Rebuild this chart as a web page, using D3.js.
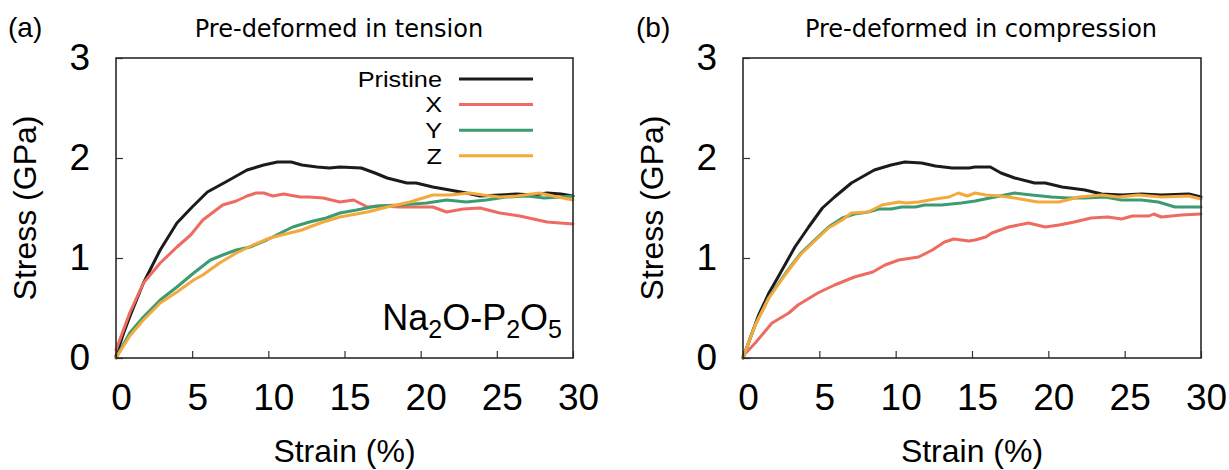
<!DOCTYPE html>
<html>
<head>
<meta charset="utf-8">
<script src="https://cdn.jsdelivr.net/npm/d3@7"></script>
<style>
  html, body { margin: 0; padding: 0; background: #fff; }
  svg { display: block; }
</style>
</head>
<body>
<svg id="chart" width="1229" height="470"></svg>
<script>
// ---------------- data ----------------
const strainTicks = [0, 5, 10, 15, 20, 25, 30];
const stressTicks = [0, 1, 2, 3];
const seriesNames = ["Pristine", "X", "Y", "Z"];
const seriesColors = ["#1b1b1b", "#ee6b61", "#3c9b72", "#f4a93b"];
const panelLabels = ["(a)", "(b)"];
const panelTitles = ["Pre-deformed in tension", "Pre-deformed in compression"];

// [strain %, stress GPa]
const tensionPristine = [[0,0.02],[0.5,0.25],[1,0.45],[1.8,0.75],[2.9,1.08],[4,1.35],[5,1.51],[6,1.66],[7.2,1.76],[8.6,1.88],[9.7,1.93],[10.6,1.96],[11.5,1.96],[12.2,1.93],[13.2,1.91],[14,1.9],[14.7,1.91],[16.1,1.9],[17,1.85],[17.8,1.8],[19.1,1.75],[19.7,1.75],[20.8,1.71],[21.9,1.68],[23,1.65],[23.9,1.62],[25.2,1.63],[26.3,1.64],[27.4,1.63],[28.3,1.65],[29.2,1.64],[30,1.62]];
const tensionX = [[0,0.08],[0.9,0.45],[1.8,0.75],[2.9,0.95],[4,1.11],[4.9,1.23],[5.7,1.38],[7,1.53],[7.9,1.57],[8.6,1.62],[9.2,1.65],[9.7,1.65],[10.3,1.62],[11,1.64],[12.1,1.61],[12.7,1.61],[13.6,1.6],[14.7,1.56],[15.6,1.58],[16.5,1.51],[17.5,1.52],[18.6,1.51],[19.7,1.51],[20.8,1.51],[21.7,1.46],[22.8,1.49],[23.9,1.5],[25.2,1.45],[26.5,1.42],[27.4,1.39],[28.3,1.36],[30,1.34]];
const tensionY = [[0,0],[0.9,0.25],[1.8,0.41],[2.9,0.58],[4,0.71],[5.1,0.85],[6.2,0.98],[7,1.03],[7.9,1.08],[8.8,1.11],[9.9,1.18],[10.8,1.25],[11.6,1.31],[12.7,1.36],[13.8,1.4],[14.7,1.45],[15.8,1.48],[17.1,1.52],[18.6,1.53],[20.4,1.55],[21.7,1.58],[23,1.56],[24.3,1.58],[25.6,1.61],[27,1.62],[28.1,1.6],[29.2,1.61],[30,1.62]];
const tensionZ = [[0,0],[0.9,0.22],[1.8,0.38],[2.9,0.55],[4,0.66],[5.1,0.78],[5.7,0.83],[6.8,0.95],[7.9,1.05],[9,1.13],[10.1,1.2],[11.4,1.25],[12.2,1.28],[12.7,1.31],[13.6,1.36],[14.7,1.41],[16.5,1.46],[17.8,1.51],[19.3,1.56],[20.8,1.63],[21.9,1.63],[23.2,1.65],[24.1,1.63],[25.2,1.61],[26.3,1.62],[27.8,1.65],[28.7,1.62],[30,1.58]];

const compressionPristine = [[0,0],[1,0.42],[1.7,0.65],[2.3,0.81],[3.4,1.11],[4.3,1.31],[5.2,1.5],[6,1.61],[7.1,1.75],[8.6,1.88],[9.7,1.93],[10.6,1.96],[11.7,1.95],[12.6,1.92],[13.7,1.9],[14.8,1.9],[15.2,1.91],[16.2,1.91],[16.9,1.85],[17.8,1.8],[19.1,1.75],[19.8,1.75],[20.9,1.71],[22.4,1.68],[23.5,1.64],[24.8,1.63],[26.1,1.64],[27.4,1.63],[29.2,1.64],[30,1.61]];
const compressionX = [[0,0.02],[0.8,0.15],[1.9,0.35],[3,0.45],[3.6,0.53],[4.9,0.65],[6,0.73],[7.3,0.81],[8.5,0.86],[9.3,0.93],[10.2,0.98],[11.5,1.01],[12.4,1.08],[13.2,1.16],[13.8,1.19],[14.8,1.17],[15.2,1.18],[15.9,1.21],[16.3,1.25],[17.4,1.31],[18.7,1.35],[19.8,1.31],[20.7,1.33],[21.7,1.36],[22.8,1.4],[23.9,1.41],[24.8,1.39],[25.5,1.42],[26.6,1.42],[26.9,1.44],[27.4,1.41],[28.7,1.43],[30,1.44]];
const compressionY = [[0,0],[0.8,0.33],[1.7,0.61],[2.8,0.85],[3.8,1.05],[4.7,1.18],[5.6,1.31],[6.5,1.4],[7.3,1.44],[8.2,1.46],[8.9,1.49],[9.7,1.49],[10.4,1.51],[11.3,1.51],[11.9,1.53],[13,1.53],[14.3,1.55],[15.2,1.57],[16.5,1.61],[17.8,1.65],[18.9,1.63],[20.2,1.61],[21.3,1.6],[22.4,1.6],[23.7,1.61],[24.8,1.58],[26.1,1.58],[27.2,1.56],[28.3,1.51],[30,1.51]];
const compressionZ = [[0,0],[0.8,0.33],[1.7,0.6],[2.8,0.84],[3.8,1.04],[4.7,1.17],[5.6,1.3],[6.5,1.38],[7.1,1.45],[8.2,1.46],[9.1,1.53],[10.2,1.56],[10.7,1.55],[11.5,1.56],[12.6,1.59],[13.5,1.61],[14.1,1.65],[14.7,1.62],[15.2,1.65],[15.9,1.63],[16.9,1.62],[17.8,1.6],[19.3,1.56],[20.7,1.56],[22,1.61],[23.5,1.63],[24.6,1.61],[25.9,1.63],[27.4,1.61],[29.2,1.62],[30,1.59]];

const panelSeries = [
  [tensionPristine, tensionX, tensionY, tensionZ],
  [compressionPristine, compressionX, compressionY, compressionZ]
];

// ---------------- layout ----------------
const svg = d3.select("#chart");
svg.append("rect").attr("width", 1229).attr("height", 470).attr("fill", "#fff");

const panels = [
  { x0: 116, x1: 573, labelX: 8, titleX: 339 },
  { x0: 743, x1: 1201, labelX: 636, titleX: 981 }
];
const yTop = 58, yBot = 358;
const FONT = "'Liberation Sans', Arial, Helvetica, sans-serif";
const TITLE_FONT = "'DejaVu Sans', Verdana, sans-serif";

panels.forEach((p, i) => {
  const x = d3.scaleLinear().domain([0, 30]).range([p.x0, p.x1]);
  const y = d3.scaleLinear().domain([0, 3]).range([yBot, yTop]);
  const g = svg.append("g");

  // curves
  const line = d3.line().x(d => x(d[0])).y(d => y(d[1]));
  panelSeries[i].forEach((s, k) => {
    g.append("path").datum(s)
      .attr("d", line)
      .attr("fill", "none")
      .attr("stroke", seriesColors[k])
      .attr("stroke-width", 3)
      .attr("stroke-linejoin", "round")
      .attr("stroke-linecap", "round");
  });

  // x axis
  const xAxis = d3.axisBottom(x).tickValues(strainTicks)
    .tickSizeInner(-7).tickSizeOuter(0).tickPadding(26).tickFormat(d3.format("d"));
  const gx = g.append("g").attr("transform", `translate(0,${yBot})`).call(xAxis);
  gx.select(".domain").remove();
  gx.selectAll(".tick line").attr("stroke", "#333").attr("stroke-width", 1.2);
  gx.selectAll(".tick text").attr("font-family", FONT).attr("font-size", 37)
    .attr("fill", "#000").attr("x", 5);

  // y axis
  const yAxis = d3.axisLeft(y).tickValues(stressTicks)
    .tickSizeInner(-7).tickSizeOuter(0).tickPadding(26).tickFormat(d3.format("d"));
  const gy = g.append("g").attr("transform", `translate(${p.x0},0)`).call(yAxis);
  gy.select(".domain").remove();
  gy.selectAll(".tick line").attr("stroke", "#333").attr("stroke-width", 1.2);
  gy.selectAll(".tick text").attr("font-family", FONT).attr("font-size", 37).attr("fill", "#000");

  // frame
  g.append("rect").attr("x", p.x0).attr("y", yTop)
    .attr("width", p.x1 - p.x0).attr("height", yBot - yTop)
    .attr("fill", "none").attr("stroke", "#2a2a2a").attr("stroke-width", 1.6);

  // axis titles
  g.append("text").attr("x", (p.x0 + p.x1) / 2).attr("y", 462)
    .attr("text-anchor", "middle").attr("font-family", FONT).attr("font-size", 32)
    .text("Strain (%)");
  g.append("text")
    .attr("transform", `translate(${p.x0 - 80},${(yTop + yBot) / 2}) rotate(-90)`)
    .attr("text-anchor", "middle").attr("font-family", FONT).attr("font-size", 32)
    .text("Stress (GPa)");

  // panel label & title
  g.append("text").attr("x", p.labelX).attr("y", 37)
    .attr("font-family", FONT).attr("font-size", 28).text(panelLabels[i]);
  g.append("text").attr("x", p.titleX).attr("y", 37)
    .attr("text-anchor", "middle").attr("font-family", TITLE_FONT).attr("font-size", 24)
    .text(panelTitles[i]);

  if (i === 0) {
    // legend
    const lg = g.append("g");
    seriesNames.forEach((n, k) => {
      const yy = 79 + k * 25.6;
      lg.append("text")
        .attr("transform", `translate(442,${yy}) scale(1.15,1)`)
        .attr("dy", "0.35em")
        .attr("text-anchor", "end").attr("font-family", FONT).attr("font-size", 22)
        .text(n);
      lg.append("line").attr("x1", 459).attr("x2", 533).attr("y1", yy).attr("y2", yy)
        .attr("stroke", seriesColors[k]).attr("stroke-width", 3);
    });
    // composition label
    const t = g.append("text").attr("x", 562).attr("y", 330).attr("text-anchor", "end")
      .attr("font-family", FONT).attr("font-size", 36);
    const parts = [["Na", false], ["2", true], ["O-P", false], ["2", true], ["O", false], ["5", true]];
    parts.forEach(([s, sub], j) => {
      const ts = t.append("tspan").text(s);
      if (sub) ts.attr("font-size", 25).attr("dy", 8);
      else ts.attr("dy", j > 0 && parts[j - 1][1] ? -8 : 0);
    });
  }
});
</script>
</body>
</html>
